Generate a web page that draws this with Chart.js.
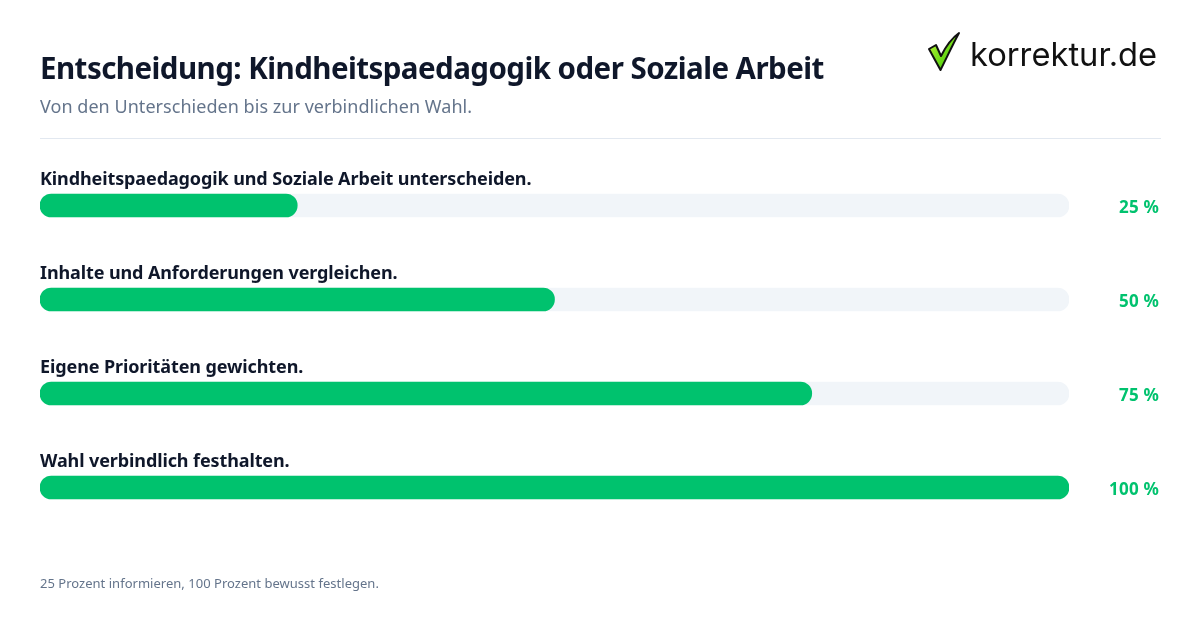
<!DOCTYPE html>
<html lang="de">
<head>
<meta charset="utf-8">
<title>Entscheidung</title>
<script src="https://cdn.jsdelivr.net/npm/chart.js@4/dist/chart.umd.min.js"></script>
<style>
    html, body { margin: 0; padding: 0; background: #ffffff; }
    body { width: 1200px; height: 630px; position: relative; overflow: hidden; font-family: "Noto Sans", sans-serif; }
    #chart { position: absolute; left: 0; top: 0; }
    .text { position: absolute; white-space: nowrap; }
    #title { left: 40px; top: 47px; font-size: 29.5px; line-height: 42px; font-weight: 700; letter-spacing: -0.54px; color: #0f172a; }
    #subtitle { left: 40px; top: 93px; font-size: 18px; line-height: 26px; letter-spacing: 0.04px; color: #64748b; }
    #rule { position: absolute; left: 40px; top: 138px; width: 1121px; height: 1px; background: #e2e8f0; }
    #footer { left: 40px; top: 574px; font-size: 13px; line-height: 18px; letter-spacing: 0.02px; color: #64748b; }
    #logo-text { left: 970px; top: 32px; font-family: Inter, sans-serif; font-size: 32.7px; line-height: 44px; font-weight: 400; color: #111111; }
    #logo-check { position: absolute; left: 926px; top: 30px; }
</style>
</head>
<body>
<canvas id="chart" width="1200" height="630"></canvas>
<div class="text" id="title">Entscheidung: Kindheitspaedagogik oder Soziale Arbeit</div>
<div class="text" id="subtitle">Von den Unterschieden bis zur verbindlichen Wahl.</div>
<div id="rule"></div>
<div class="text" id="footer">25 Prozent informieren, 100 Prozent bewusst festlegen.</div>
<svg id="logo-check" width="38" height="44" viewBox="0 0 38 44">
    <defs>
        <linearGradient id="checkFill" x1="0" y1="0" x2="1" y2="1">
            <stop offset="0" stop-color="#c4f53c"/>
            <stop offset="0.6" stop-color="#66d814"/>
            <stop offset="1" stop-color="#35a80e"/>
        </linearGradient>
    </defs>
    <path d="M3 19 L10 15 L15 26 C20 16 26 8 33 3 C27 14 21 27 14.5 40 Z" fill="url(#checkFill)" stroke="#111111" stroke-width="2" stroke-linejoin="round"/>
</svg>
<div class="text" id="logo-text">korrektur.de</div>

<script>
const categories = [
    "Kindheitspaedagogik und Soziale Arbeit unterscheiden.",
    "Inhalte und Anforderungen vergleichen.",
    "Eigene Prioritäten gewichten.",
    "Wahl verbindlich festhalten."
];
const percentValues = [25, 50, 75, 100];
const trackValues = [100, 100, 100, 100];
const percentTicks = [0, 25, 50, 75, 100];

const green = "#00c26e";
const track = "#f1f5f9";

// labels above each bar and the percent at the right end
const barLabels = {
    id: "barLabels",
    afterDatasetsDraw(chart) {
        const { ctx, scales, chartArea } = chart;
        ctx.save();
        categories.forEach((name, i) => {
            const y = scales.y.getPixelForValue(i);

            ctx.font = "700 18px 'Noto Sans', sans-serif";
            ctx.letterSpacing = "-0.11px";
            ctx.fillStyle = "#0f172a";
            ctx.textAlign = "left";
            ctx.textBaseline = "alphabetic";
            ctx.fillText(name, chartArea.left, y - 21);

            ctx.font = "700 17px 'Noto Sans', sans-serif";
            ctx.letterSpacing = "0.2px";
            ctx.fillStyle = green;
            ctx.textAlign = "right";
            ctx.textBaseline = "middle";
            ctx.fillText(percentValues[i] + " %", 1159, y + 3);
        });
        ctx.restore();
    }
};

new Chart(document.getElementById("chart"), {
    type: "bar",
    data: {
        labels: categories,
        datasets: [
            {
                data: percentValues,
                backgroundColor: green,
                borderRadius: 11.5,
                borderSkipped: false,
                barThickness: 23,
                grouped: false,
                order: 1
            },
            {
                data: trackValues,
                backgroundColor: track,
                borderRadius: 11.5,
                borderSkipped: false,
                barThickness: 23,
                grouped: false,
                order: 2
            }
        ]
    },
    options: {
        indexAxis: "y",
        responsive: false,
        animation: false,
        layout: { padding: { left: 40, right: 131, top: 158.5, bottom: 95.5 } },
        scales: {
            x: {
                display: false,
                min: percentTicks[0],
                max: percentTicks[percentTicks.length - 1]
            },
            y: { display: false }
        },
        plugins: { legend: { display: false }, tooltip: { enabled: false } }
    },
    plugins: [barLabels]
});
</script>
</body>
</html>
